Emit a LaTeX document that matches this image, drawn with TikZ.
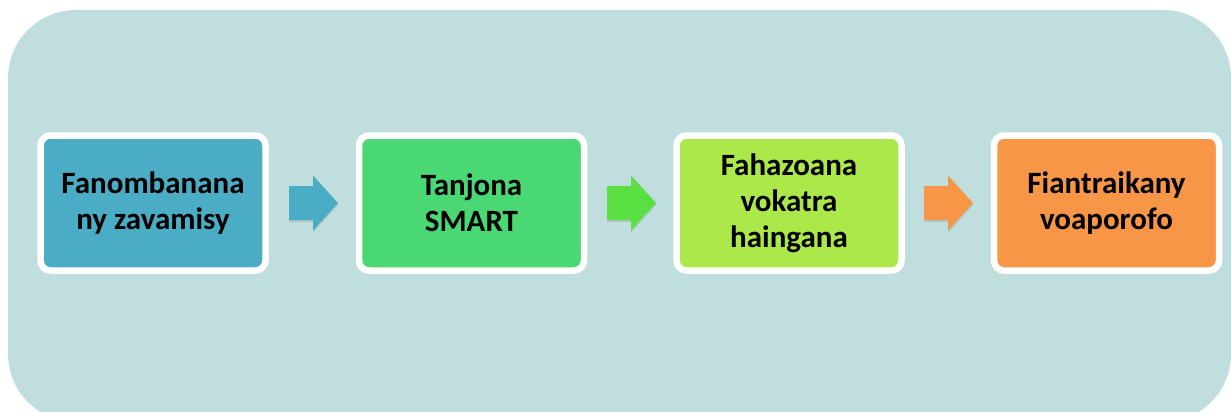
\documentclass[tikz,border=0pt]{standalone}
\usepackage{fontspec}
\setmainfont{Carlito}
\usetikzlibrary{shadows}
\definecolor{bgc}{HTML}{C0DEDD}
\definecolor{cblue}{HTML}{4BACC6}
\definecolor{cgreen}{HTML}{4AD874}
\definecolor{clime}{HTML}{ADE84B}
\definecolor{corange}{HTML}{F79646}
\definecolor{agreen}{HTML}{5BE044}
\tikzset{
  stepbox/.style={draw=white, line width=6.5pt, rounded corners=10pt,
    minimum width=225pt, minimum height=135pt, inner sep=0pt,
    align=center, font=\fontsize{31}{36}\selectfont\bfseries, text=black,
    drop shadow={shadow xshift=0pt, shadow yshift=-3pt, opacity=0.25, fill=black!60}},
  blockarrow/.style={draw=none,
    drop shadow={shadow xshift=0pt, shadow yshift=-2pt, opacity=0.2, fill=black!60}},
  pics/barrow/.style={code={
    \path[blockarrow, pic actions] (0,-17) -- (24,-17) -- (24,-27.5) -- (49,0)
      -- (24,27.5) -- (24,17) -- (0,17) -- cycle;}}
}
\begin{document}
\begin{tikzpicture}[x=1pt,y=-1pt]
\clip (0,0) rectangle (1231,412);
\fill[bgc, rounded corners=68pt] (8,10) rectangle (1231,422);
\node[stepbox, fill=cblue] (b1) at (153,203) {Fanombanana\\ny zavamisy};
\node[stepbox, fill=cgreen] (b2) at (471.5,203) {Tanjona\\SMART};
\node[stepbox, fill=clime] (b3) at (789,203) {Fahazoana\\vokatra\\haingana};
\node[stepbox, fill=corange] (b4) at (1106.5,203) {Fiantraikany\\voaporofo};
\coordinate (a1) at (289,203);
\coordinate (a2) at (607,203);
\coordinate (a3) at (924,203);
\pic[fill=cblue] at (a1) {barrow};
\pic[fill=agreen] at (a2) {barrow};
\pic[fill=corange] at (a3) {barrow};
\end{tikzpicture}
\end{document}
